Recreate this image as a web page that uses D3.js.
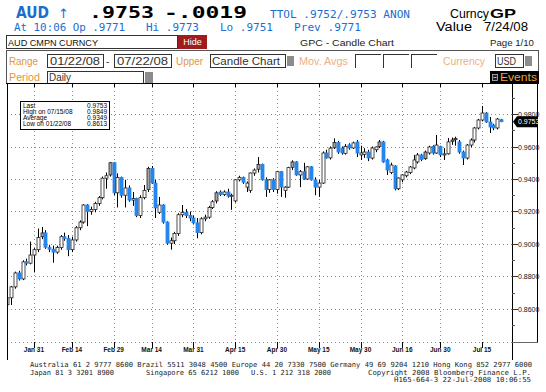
<!DOCTYPE html>
<html><head><meta charset="utf-8">
<script src="https://cdn.jsdelivr.net/npm/d3@7"></script>
<style>body{margin:0;background:#fff;}svg{display:block;}</style>
</head><body>
<svg id="c" width="546" height="392"></svg>
<script>
// ---------- DATA ----------
const dates = d3.timeDays(new Date(2008,0,22), new Date(2008,6,23)).filter(d => d.getDay()!==0 && d.getDay()!==6);
const open = [
.8626,.8669,.8736,.8822,.8785,.8890,.8882,.8932,.8965,.9045,
.9068,.8980,.8968,.8950,.8978,.9045,.9035,.8965,.9025,.9100,
.9135,.9240,.9200,.9212,.9250,.9285,.9405,.9425,.9500,.9315,
.9410,.9300,.9345,.9270,.9280,.9175,.9285,.9335,.9465,.9375,
.9195,.9240,.9135,.9005,.9020,.9065,.9180,.9195,.9175,.9160,
.9130,.9070,.9155,.9165,.9225,.9265,.9320,.9305,.9320,.9295,
.9265,.9395,.9410,.9350,.9330,.9437,.9460,.9490,.9395,.9335,
.9395,.9335,.9445,.9330,.9350,.9472,.9505,.9425,.9445,.9400,
.9475,.9395,.9350,.9375,.9560,.9530,.9592,.9625,.9590,.9558,
.9610,.9591,.9628,.9548,.9552,.9566,.9529,.9580,.9600,.9628,
.9517,.9440,.9480,.9340,.9395,.9420,.9440,.9468,.9505,.9548,
.9525,.9560,.9600,.9560,.9600,.9548,.9555,.9632,.9642,.9628,
.9566,.9529,.9609,.9640,.9714,.9763,.9806,.9751,.9732,.9714,
.9765];
const high = [
.8687,.8742,.8830,.8835,.8900,.8910,.9015,.8975,.9095,.9105,
.9085,.8995,.8990,.8990,.9055,.9070,.9055,.9045,.9110,.9145,
.9245,.9245,.9230,.9260,.9295,.9415,.9440,.9505,.9505,.9435,
.9415,.9395,.9360,.9320,.9285,.9300,.9363,.9475,.9480,.9395,
.9290,.9245,.9140,.9040,.9075,.9190,.9240,.9215,.9200,.9175,
.9160,.9165,.9180,.9235,.9270,.9325,.9330,.9330,.9340,.9310,
.9400,.9420,.9415,.9385,.9440,.9465,.9535,.9495,.9410,.9400,
.9405,.9450,.9450,.9355,.9475,.9515,.9510,.9455,.9500,.9480,
.9480,.9410,.9395,.9570,.9580,.9600,.9650,.9635,.9600,.9615,
.9620,.9630,.9640,.9605,.9590,.9580,.9600,.9600,.9640,.9635,
.9525,.9500,.9485,.9410,.9430,.9450,.9480,.9548,.9560,.9555,
.9575,.9605,.9608,.9671,.9605,.9590,.9652,.9655,.9660,.9640,
.9575,.9615,.9650,.9720,.9770,.9849,.9812,.9782,.9740,.9775,
.9770];
const low = [
.8613,.8625,.8725,.8775,.8778,.8868,.8875,.8825,.8950,.9030,
.8970,.8950,.8885,.8940,.8965,.9020,.8925,.8950,.9015,.9085,
.9125,.9110,.9180,.9195,.9235,.9275,.9340,.9415,.9300,.9225,
.9285,.9225,.9260,.9235,.9165,.9160,.9275,.9320,.9370,.9160,
.9185,.9125,.8995,.8965,.9000,.9050,.9165,.9160,.9140,.9120,
.9035,.9060,.9140,.9155,.9215,.9250,.9295,.9295,.9285,.9210,
.9255,.9385,.9370,.9320,.9315,.9420,.9440,.9390,.9290,.9315,
.9320,.9310,.9290,.9285,.9345,.9455,.9420,.9350,.9395,.9395,
.9390,.9300,.9290,.9370,.9525,.9520,.9585,.9555,.9550,.9550,
.9580,.9585,.9535,.9517,.9530,.9510,.9520,.9565,.9590,.9500,
.9425,.9430,.9330,.9332,.9380,.9410,.9430,.9460,.9495,.9510,
.9518,.9550,.9550,.9555,.9535,.9517,.9550,.9610,.9605,.9555,
.9486,.9520,.9595,.9625,.9705,.9755,.9745,.9683,.9700,.9705,
.9750];
const close = [
.8669,.8736,.8822,.8785,.8890,.8882,.8932,.8965,.9040,.9068,
.8980,.8968,.8950,.8978,.9045,.9035,.8965,.9025,.9100,.9135,
.9240,.9200,.9212,.9250,.9285,.9405,.9420,.9500,.9315,.9410,
.9300,.9345,.9270,.9280,.9175,.9285,.9330,.9465,.9375,.9222,
.9240,.9135,.9005,.9020,.9065,.9180,.9195,.9175,.9160,.9130,
.9070,.9155,.9165,.9225,.9260,.9315,.9305,.9320,.9295,.9300,
.9395,.9410,.9380,.9375,.9437,.9455,.9490,.9395,.9335,.9395,
.9335,.9445,.9350,.9350,.9470,.9505,.9425,.9445,.9400,.9475,
.9395,.9350,.9375,.9560,.9530,.9590,.9625,.9566,.9560,.9600,
.9591,.9622,.9560,.9560,.9566,.9529,.9591,.9597,.9628,.9505,
.9455,.9486,.9340,.9406,.9425,.9443,.9474,.9517,.9548,.9520,
.9566,.9597,.9560,.9609,.9548,.9555,.9628,.9640,.9650,.9566,
.9529,.9609,.9640,.9714,.9763,.9806,.9751,.9720,.9714,.9769,
.9753];
const xTickLabels = ["Jan 31","Feb 14","Feb 29","Mar 14","Mar 31","Apr 15","Apr 30","May 15","May 30","Jun 16","Jun 30","Jul 15"];
const yTicks = [0.86,0.88,0.90,0.92,0.94,0.96,0.98];
const yMinorTicks = [0.85,0.87,0.89,0.91,0.93,0.95,0.97,0.99];
const averageValue = 0.9349;

// ---------- SETUP ----------
const svg = d3.select("#c");
const BLUE_TXT = "#1c6dd0", ORANGE = "#e2953f", ORANGE2 = "#e9b184";
const L = 7, R = 512, T = 83, B = 342;
const x = d3.scaleLinear().domain([-0.1, 132.9]).range([L, R]);
const y = d3.scaleLinear().domain([0.84, 0.98]).range([341.5, 114]);
const fmt4 = d3.format(".4f");
const fmtDay = d3.timeFormat("%b %d");
const fmtMDY = d3.timeFormat("%m/%d/%y");
const MONO = "'DejaVu Sans Mono', monospace", SANS = "'Liberation Sans', Arial, sans-serif";

function txt(g, s, xx, yy, o) {
  o = o || {};
  const t = g.append("text").attr("x", xx).attr("y", yy).text(s)
    .attr("font-family", o.ff || SANS).attr("font-size", o.fs || 10)
    .attr("fill", o.fill || "#000");
  if (o.fw) t.attr("font-weight", o.fw);
  if (o.tl) t.attr("textLength", o.tl).attr("lengthAdjust", "spacingAndGlyphs");
  if (o.anchor) t.attr("text-anchor", o.anchor);
  return t;
}
function box(g, xx, yy, w, h, fill, stroke) {
  return g.append("rect").attr("x", xx+0.5).attr("y", yy+0.5).attr("width", w).attr("height", h)
    .attr("fill", fill || "#fff").attr("stroke", stroke || "#333").attr("stroke-width", 1)
    .attr("shape-rendering", "crispEdges");
}

// ---------- HEADER ----------
const hd = svg.append("g");
txt(hd, "AUD", 16, 18, {ff:"'DejaVu Sans', sans-serif", fs:15, fw:"bold", fill:BLUE_TXT, tl:33});
txt(hd, "\u2191", 58, 18, {ff:"'DejaVu Sans', sans-serif", fs:13, fill:BLUE_TXT});
txt(hd, ".9753", 89, 18, {ff:MONO, fs:16, fw:"bold", tl:65});
txt(hd, "-.0019", 164, 18, {ff:MONO, fs:16, fw:"bold", tl:83});
txt(hd, "TTOL .9752/.9753 ANON", 270, 18, {ff:MONO, fs:11, fill:BLUE_TXT, tl:140});
txt(hd, "Curncy", 450, 18, {fs:12, tl:39});
txt(hd, "GP", 490, 18, {fs:13, fw:"bold", tl:26});
txt(hd, "At 10:06 Op .9771", 14, 31, {ff:MONO, fs:11, fill:BLUE_TXT, tl:111});
txt(hd, "Hi .9773", 146, 31, {ff:MONO, fs:11, fill:BLUE_TXT, tl:53});
txt(hd, "Lo .9751", 220, 31, {ff:MONO, fs:11, fill:BLUE_TXT, tl:53});
txt(hd, "Prev .9771", 294, 31, {ff:MONO, fs:11, fill:BLUE_TXT, tl:67});
txt(hd, "Value", 436, 31, {fs:12, tl:36});
txt(hd, "7/24/08", 484, 31, {fs:12, tl:44});

box(hd, 6, 35, 171, 13);
txt(hd, "AUD CMPN CURNCY", 8, 46, {fs:9, tl:90, fill:"#111"});
hd.append("rect").attr("x", 178).attr("y", 35).attr("width", 29).attr("height", 14).attr("fill", "#a01c1c");
txt(hd, "Hide", 192.5, 45, {fs:9, fill:"#fff", anchor:"middle"});
txt(hd, "GPC - Candle Chart", 300, 46, {fs:9.5, tl:94, fill:"#222"});
txt(hd, "Page 1/10", 490, 46, {fs:9.5, tl:44, fill:"#222"});

box(hd, 6, 50, 532, 33, "none", "#555");
// row 4
txt(hd, "Range", 9, 65, {fs:10, fill:ORANGE, tl:29});
box(hd, 47, 54, 56, 13);
txt(hd, "01/22/08", 50, 65, {fs:10, fill:"#333", tl:50});
txt(hd, "-", 106, 65, {fs:10, fill:"#333"});
box(hd, 114, 54, 57, 13);
txt(hd, "07/22/08", 117, 65, {fs:10, fill:"#333", tl:51});
txt(hd, "Upper", 176, 65, {fs:10, fill:ORANGE, tl:27});
box(hd, 210, 54, 75, 13);
txt(hd, "Candle Chart", 212, 65, {fs:10, fill:"#333", tl:68});
hd.append("rect").attr("x", 287).attr("y", 56).attr("width", 7).attr("height", 10).attr("fill", "#8c8c8c");
txt(hd, "Mov. Avgs", 299, 65, {fs:10, fill:ORANGE2, tl:49});
[355, 383, 411].forEach(b => {
  hd.append("path").attr("d", `M${b+0.5},${67.5} V${54.5} H${b+25.5}`).attr("fill", "none")
    .attr("stroke", "#333").attr("shape-rendering", "crispEdges");
});
txt(hd, "Currency", 443, 65, {fs:10, fill:ORANGE2, tl:42});
box(hd, 495, 54, 28, 13);
txt(hd, "USD", 497, 65, {fs:10, fill:"#333", tl:19});
hd.append("rect").attr("x", 525).attr("y", 56).attr("width", 7).attr("height", 10).attr("fill", "#8c8c8c");
// row 5
txt(hd, "Period", 9, 81, {fs:10, fill:ORANGE, tl:31});
box(hd, 47, 71, 96, 12);
txt(hd, "Daily", 49, 81, {fs:10, fill:"#333", tl:22});
hd.append("rect").attr("x", 145).attr("y", 72).attr("width", 8).attr("height", 11).attr("fill", "#8c8c8c");
hd.append("rect").attr("x", 490).attr("y", 71).attr("width", 49).attr("height", 13).attr("fill", "#000");
hd.append("rect").attr("x", 492.5).attr("y", 74.5).attr("width", 5).attr("height", 6).attr("fill", "#222").attr("stroke", "#bbb").attr("stroke-width", 0.8);
hd.append("line").attr("x1", 493.5).attr("x2", 496.5).attr("y1", 77.5).attr("y2", 77.5).attr("stroke", "#ddd").attr("stroke-width", 0.8);
txt(hd, "Events", 500, 81, {fs:10, fill:"#f0a030", tl:37});

// ---------- CHART FRAME & GRID ----------
const ch = svg.append("g");
const tickIdx = xTickLabels.map(lbl => dates.findIndex(d => fmtDay(d) === lbl));
const grid = ch.append("g").attr("stroke", "#8a8a8a").attr("stroke-width", 1)
  .attr("stroke-dasharray", "1,3").attr("shape-rendering", "crispEdges");
yTicks.concat([0.84]).forEach(v => {
  grid.append("line").attr("x1", L).attr("x2", R).attr("y1", Math.round(y(v))+0.5).attr("y2", Math.round(y(v))+0.5);
});
tickIdx.forEach(i => {
  const xx = Math.round(x(i))+0.5;
  grid.append("line").attr("x1", xx).attr("x2", xx).attr("y1", T).attr("y2", B);
});
const fr = ch.append("g").attr("stroke", "#000").attr("stroke-width", 1).attr("shape-rendering", "crispEdges");
fr.append("line").attr("x1", 6).attr("x2", 538).attr("y1", T+0.5).attr("y2", T+0.5);
fr.append("line").attr("x1", L+0.5).attr("x2", L+0.5).attr("y1", T).attr("y2", 360);
fr.append("line").attr("x1", R+0.5).attr("x2", R+0.5).attr("y1", T).attr("y2", 360);
fr.append("line").attr("x1", 537.5).attr("x2", 537.5).attr("y1", T).attr("y2", 343);
fr.append("line").attr("x1", R).attr("x2", 538).attr("y1", 342.5).attr("y2", 342.5).attr("stroke", "#666");
tickIdx.forEach(i => {
  const xx = Math.round(x(i))+0.5;
  fr.append("line").attr("x1", xx).attr("x2", xx).attr("y1", T).attr("y2", T+4);
  fr.append("line").attr("x1", xx).attr("x2", xx).attr("y1", B).attr("y2", B+6);
});

// x labels
tickIdx.forEach((i, k) => {
  txt(ch, xTickLabels[k], x(i), 352, {ff:"'Liberation Sans Narrow', 'Liberation Sans', sans-serif", fs:6.5, fw:"bold", anchor:"middle", fill:"#111"});
});

// y axis (right)
const ya = ch.append("g");
yTicks.forEach(v => {
  const yy = Math.round(y(v))+0.5;
  ya.append("line").attr("x1", R).attr("x2", R+6).attr("y1", yy).attr("y2", yy).attr("stroke", "#333").attr("shape-rendering", "crispEdges");
  txt(ya, fmt4(v), R+6, yy+2.5, {fs:7, fill:"#111"});
});
yMinorTicks.forEach(v => {
  const yy = Math.round(y(v))+0.5;
  ya.append("line").attr("x1", R).attr("x2", R+3).attr("y1", yy).attr("y2", yy).attr("stroke", "#555").attr("shape-rendering", "crispEdges");
});

// ---------- CANDLES ----------
svg.append("clipPath").attr("id", "clip").append("rect").attr("x", L+1).attr("y", T+1).attr("width", R-L-1).attr("height", B-T);
const cg = svg.append("g").attr("clip-path", "url(#clip)");
const idx = d3.range(close.length);
cg.selectAll("line.w").data(idx).join("line")
  .attr("x1", i => Math.round(x(i))+0.5).attr("x2", i => Math.round(x(i))+0.5)
  .attr("y1", i => y(high[i])).attr("y2", i => y(low[i]))
  .attr("stroke", "#000").attr("stroke-width", 1);
function kind(i) {
  if (close[i] < open[i]) return "down";
  if (i > 0 && open[i] > close[i-1]) return "gray";
  return "up";
}
cg.selectAll("rect.b").data(idx).join("rect")
  .attr("x", i => Math.round(x(i)) - 1)
  .attr("width", 3)
  .attr("y", i => y(Math.max(open[i], close[i])))
  .attr("height", i => Math.max(1, Math.abs(y(open[i]) - y(close[i]))))
  .attr("fill", i => ({down:"#2586ee", gray:"#a6a6a6", up:"#ffffff"})[kind(i)])
  .attr("stroke", i => kind(i) === "down" ? "#2586ee" : "#222")
  .attr("stroke-width", 0.8);

// ---------- LEGEND ----------
const lg = svg.append("g");
box(lg, 20, 101, 89, 28, "#fff", "#000");
const hiI = d3.maxIndex(high), loI = d3.minIndex(low);
const rows = [
  ["Last", fmt4(close[close.length-1])],
  ["High on  " + fmtMDY(dates[hiI]), fmt4(high[hiI])],
  ["Average", fmt4(averageValue)],
  ["Low on  " + fmtMDY(dates[loI]), fmt4(low[loI])]
];
rows.forEach((r, k) => {
  txt(lg, r[0], 23, 107.5 + k*6, {fs:6.5});
  txt(lg, r[1], 107, 107.5 + k*6, {fs:6.5, anchor:"end"});
});

// last price tag
const lastY = y(close[close.length-1]);
svg.append("path")
  .attr("d", `M${R+1},${lastY} L${R+5},${lastY-5.5} L537,${lastY-5.5} L537,${lastY+5.5} L${R+5},${lastY+5.5} Z`)
  .attr("fill", "#000");
txt(svg, fmt4(close[close.length-1]), R+6, lastY+2.5, {fs:7, fill:"#fff"});

// ---------- FOOTER ----------
const ft = svg.append("g");
const fo = {ff:MONO, fs:7, fill:"#222"};
txt(ft, "Australia 61 2 9777 8600 Brazil 5511 3048 4500 Europe 44 20 7330 7500 Germany 49 69 9204 1210 Hong Kong 852 2977 6000", 30, 367, Object.assign({tl:502}, fo));
txt(ft, "Japan 81 3 3201 8900", 30, 375, Object.assign({tl:84}, fo));
txt(ft, "Singapore 65 6212 1000", 146, 375, Object.assign({tl:93}, fo));
txt(ft, "U.S. 1 212 318 2000", 251, 375, Object.assign({tl:80}, fo));
txt(ft, "Copyright 2008 Bloomberg Finance L.P.", 531, 375, Object.assign({anchor:"end", tl:163}, fo));
txt(ft, "H165-664-3 22-Jul-2008 10:06:55", 531, 382, Object.assign({anchor:"end", tl:137}, fo));
</script>
</body></html>
